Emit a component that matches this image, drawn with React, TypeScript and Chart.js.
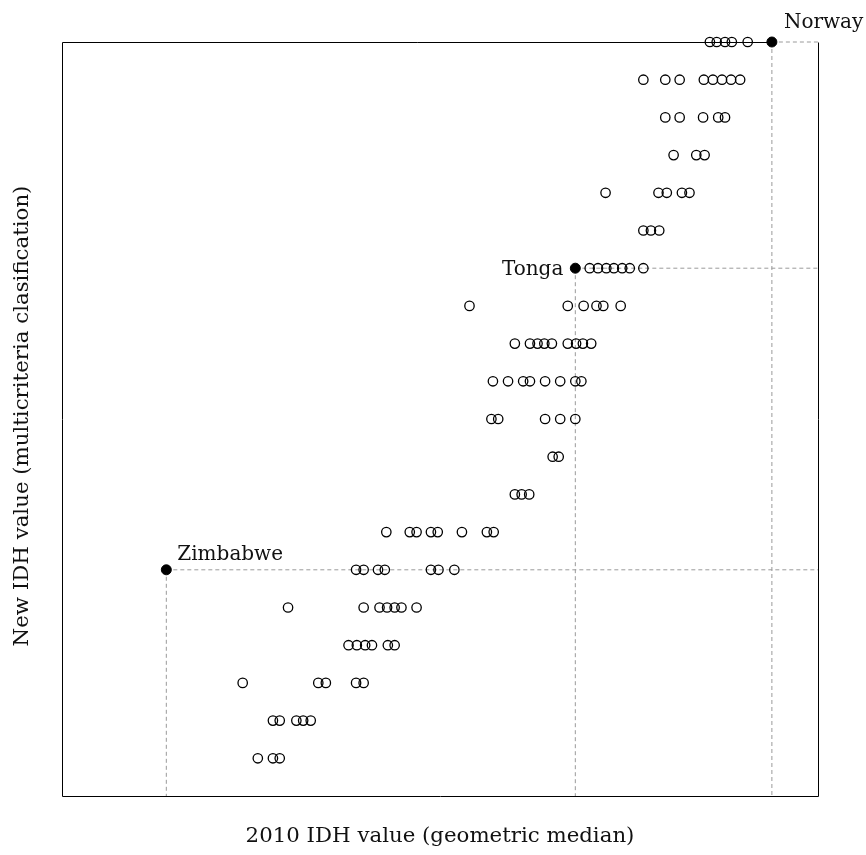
import React, { useEffect, useRef } from "react";
import { Chart, registerables } from "chart.js";

Chart.register(...registerables);

// Rank rows (y) of the multicriteria classification
const rowLevels = [1, 2, 3, 4, 5, 6, 7, 8, 9, 10, 11, 12, 13, 14, 15, 16, 17, 18, 19, 20];

// 2010 IDH values (x) of the countries in each row
const row1 = [0.259, 0.279, 0.288];
const row2 = [0.279, 0.288, 0.31, 0.319, 0.329];
const row3 = [0.239, 0.339, 0.349, 0.389, 0.399];
const row4 = [0.379, 0.39, 0.401, 0.41, 0.431, 0.44];
const row5 = [0.299, 0.399, 0.42, 0.43, 0.44, 0.449, 0.469];
const row6 = [0.389, 0.399, 0.418, 0.427, 0.488, 0.498, 0.519];
const row7 = [0.429, 0.46, 0.469, 0.488, 0.497, 0.529, 0.562, 0.571];
const row8 = [0.599, 0.608, 0.618];
const row9 = [0.649, 0.657];
const row10 = [0.568, 0.577, 0.639, 0.659, 0.679];
const row11 = [0.57, 0.59, 0.61, 0.619, 0.639, 0.659, 0.679, 0.687];
const row12 = [0.599, 0.619, 0.629, 0.638, 0.648, 0.669, 0.68, 0.689, 0.7];
const row13 = [0.539, 0.669, 0.69, 0.707, 0.716, 0.739];
const row14 = [0.698, 0.709, 0.72, 0.73, 0.741, 0.751, 0.769];
const row15 = [0.769, 0.779, 0.79];
const row16 = [0.719, 0.789, 0.8, 0.82, 0.83];
const row17 = [0.809, 0.839, 0.85];
const row18 = [0.798, 0.817, 0.848, 0.868, 0.877];
const row19 = [0.769, 0.798, 0.817, 0.849, 0.861, 0.873, 0.885, 0.897];
const row20 = [0.857, 0.866, 0.877, 0.886, 0.907];

const rows = [row1, row2, row3, row4, row5, row6, row7, row8, row9, row10,
  row11, row12, row13, row14, row15, row16, row17, row18, row19, row20];

// Highlighted countries
const highlightNames = ["Zimbabwe", "Tonga", "Norway"];
const highlightX = [0.138, 0.679, 0.939];
const highlightY = [6, 14, 20];

const xTitle = "2010 IDH value (geometric median)";
const yTitle = "New IDH value (multicriteria clasification)";
const xMin = 0;
const xMax = 1;
const yMin = 0;
const yMax = 20;

const LABEL_FONT = '20px "DejaVu Serif"';
const TITLE_FONT = '21.3px "DejaVu Serif"';

export default function App() {
  const ref = useRef<HTMLCanvasElement | null>(null);

  useEffect(() => {
    const canvas = ref.current;
    if (!canvas) return;

    const openPoints: { x: number; y: number }[] = [];
    rows.forEach((r, i) => r.forEach((x) => openPoints.push({ x, y: rowLevels[i] })));

    const guideSets: any[] = [];
    highlightX.forEach((x, i) => {
      const y = highlightY[i];
      guideSets.push({
        type: "line",
        data: [{ x, y }, { x, y: yMin }],
        borderColor: "#9a9a9a",
        borderWidth: 1,
        borderDash: [4, 3],
        pointRadius: 0,
        fill: false,
        order: 5,
        clip: false,
      });
      guideSets.push({
        type: "line",
        data: [{ x, y }, { x: xMax, y }],
        borderColor: "#9a9a9a",
        borderWidth: 1,
        borderDash: [4, 3],
        pointRadius: 0,
        fill: false,
        order: 5,
        clip: false,
      });
    });

    const framePlugin = {
      id: "frameAndText",
      beforeDatasetsDraw(chart: any) {
        const { ctx, chartArea } = chart;
        const xs = chart.scales.x;
        const topEnd = xs.getPixelForValue(highlightX[2]);
        ctx.save();
        ctx.strokeStyle = "#000";
        ctx.lineWidth = 1;
        ctx.beginPath();
        ctx.moveTo(topEnd, chartArea.top + 0.5);
        ctx.lineTo(chartArea.left + 0.5, chartArea.top + 0.5);
        ctx.lineTo(chartArea.left + 0.5, chartArea.bottom + 0.5);
        ctx.lineTo(chartArea.right + 0.5, chartArea.bottom + 0.5);
        ctx.lineTo(chartArea.right + 0.5, chartArea.top + 0.5);
        ctx.stroke();
        ctx.restore();
      },
      afterDatasetsDraw(chart: any) {
        const { ctx, chartArea } = chart;
        const xs = chart.scales.x;
        const ys = chart.scales.y;
        ctx.save();
        ctx.fillStyle = "#111";
        ctx.textBaseline = "alphabetic";
        // axis titles
        ctx.font = TITLE_FONT;
        ctx.textAlign = "center";
        ctx.fillText(xTitle, (chartArea.left + chartArea.right) / 2, 842);
        ctx.save();
        ctx.translate(28, (chartArea.top + chartArea.bottom) / 2 - 3);
        ctx.rotate(-Math.PI / 2);
        ctx.fillText(yTitle, 0, 0);
        ctx.restore();
        // point labels
        ctx.font = LABEL_FONT;
        highlightNames.forEach((name, i) => {
          const px = xs.getPixelForValue(highlightX[i]);
          const py = ys.getPixelForValue(highlightY[i]);
          if (name === "Tonga") {
            ctx.textAlign = "right";
            ctx.fillText(name, px - 12, py + 7);
          } else if (name === "Norway") {
            ctx.textAlign = "left";
            ctx.fillText(name, px + 12, py - 14);
          } else {
            ctx.textAlign = "left";
            ctx.fillText(name, px + 11, py - 10);
          }
        });
        ctx.restore();
      },
    };

    const chart = new Chart(canvas, {
      type: "scatter",
      data: {
        datasets: [
          {
            label: "highlight",
            data: highlightX.map((x, i) => ({ x, y: highlightY[i] })),
            pointRadius: 5,
            pointBackgroundColor: "#000",
            pointBorderColor: "#000",
            pointBorderWidth: 1,
            order: 0,
            clip: false,
          } as any,
          {
            label: "countries",
            data: openPoints,
            pointRadius: 4.7,
            pointBackgroundColor: "rgba(255,255,255,0)",
            pointBorderColor: "#000",
            pointBorderWidth: 1.3,
            order: 1,
            clip: false,
          } as any,
          ...guideSets,
        ],
      },
      options: {
        animation: false,
        responsive: false,
        devicePixelRatio: 1,
        layout: { padding: { left: 62, right: 48, top: 42, bottom: 59 } },
        plugins: { legend: { display: false }, tooltip: { enabled: false } },
        scales: {
          x: { type: "linear", min: xMin, max: xMax, display: false },
          y: { type: "linear", min: yMin, max: yMax, display: false },
        },
      },
      plugins: [framePlugin],
    });

    return () => chart.destroy();
  }, []);

  return (
    <div style={{ position: "fixed", left: 0, top: 0, width: 866, height: 855, background: "#fff" }}>
      <canvas ref={ref} width={866} height={855} style={{ width: 866, height: 855, display: "block" }} />
    </div>
  );
}
